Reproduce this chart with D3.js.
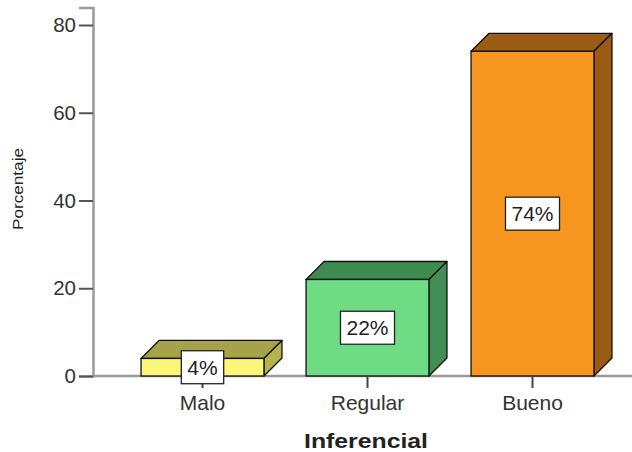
<!DOCTYPE html>
<html><head><meta charset="utf-8">
<script src="https://cdn.jsdelivr.net/npm/d3@7"></script>
<style>html,body{margin:0;padding:0;background:#fff}svg{display:block}</style>
</head><body>
<script>
const categories = ["Malo", "Regular", "Bueno"];
const values = [4, 22, 74];
const valueLabels = ["4%", "22%", "74%"];
const yTicks = [0, 20, 40, 60, 80];
const frontColors = ["#FAF67A", "#6FDB84", "#F7961F"];
const topColors = ["#A6A24A", "#3F8B50", "#9A5B14"];
const sideColors = ["#B6B24C", "#438E54", "#9A5B14"];
const xTitle = "Inferencial";
const yTitle = "Porcentaje";

const W = 632, H = 452;
const svg = d3.select("body").append("svg").attr("width", W).attr("height", H);
const font = "'Liberation Sans', Arial, sans-serif";

const y = d3.scaleLinear().domain([0, 84]).range([376, 7.45]);
const x = d3.scaleBand().domain(categories).range([120, 615]).paddingInner(0.255).paddingOuter(0.1275);
const dx = 18, dy = 18;

// y axis
const yAxis = svg.append("g").attr("transform", "translate(93,0)")
  .call(d3.axisLeft(y).tickValues(yTicks).tickSize(14).tickPadding(3));
yAxis.select(".domain").attr("stroke", "#9a9a9a").attr("stroke-width", 2.5);
yAxis.selectAll(".tick line").attr("stroke", "#555").attr("stroke-width", 2);
yAxis.selectAll(".tick text").attr("font-family", font).attr("font-size", 20.5).attr("fill", "#333");

// baseline
svg.append("line").attr("x1", 93).attr("x2", 632).attr("y1", y(0)).attr("y2", y(0))
  .attr("stroke", "#9a9a9a").attr("stroke-width", 2.5);

// bars
const g = svg.append("g");
categories.forEach((c, i) => {
  const x0 = x(c), x1 = x(c) + x.bandwidth(), yt = y(values[i]), yb = y(0);
  g.append("path").attr("d", `M${x0},${yt}L${x0+dx},${yt-dy}L${x1+dx},${yt-dy}L${x1},${yt}Z`)
    .attr("fill", topColors[i]).attr("stroke", "#111").attr("stroke-width", 1.3).attr("stroke-linejoin", "round");
  g.append("path").attr("d", `M${x1},${yt}L${x1+dx},${yt-dy}L${x1+dx},${yb-dy}L${x1},${yb}Z`)
    .attr("fill", sideColors[i]).attr("stroke", "#111").attr("stroke-width", 1.3).attr("stroke-linejoin", "round");
  g.append("rect").attr("x", x0).attr("y", yt).attr("width", x1 - x0).attr("height", yb - yt)
    .attr("fill", frontColors[i]).attr("stroke", "#111").attr("stroke-width", 1.3);
});

// x ticks
categories.forEach(c => {
  svg.append("line").attr("x1", x(c) + x.bandwidth()/2).attr("x2", x(c) + x.bandwidth()/2)
    .attr("y1", y(0)).attr("y2", y(0) + 12).attr("stroke", "#444").attr("stroke-width", 2);
});

// value labels
categories.forEach((c, i) => {
  const cx = x(c) + x.bandwidth()/2, cy = y(values[i] / 2);
  const t = svg.append("text").attr("x", cx).attr("y", cy + 7.5).attr("text-anchor", "middle")
    .attr("font-family", font).attr("font-size", 21).attr("fill", "#222").text(valueLabels[i]);
  const bb = t.node().getBBox();
  svg.insert("rect", () => t.node()).attr("x", cx - bb.width/2 - 6).attr("y", cy - 16.5)
    .attr("width", bb.width + 12).attr("height", 33).attr("fill", "#fff").attr("stroke", "#222").attr("stroke-width", 1.3);
});

// x labels
categories.forEach(c => {
  svg.append("text").attr("x", x(c) + x.bandwidth()/2).attr("y", 409.5).attr("text-anchor", "middle")
    .attr("font-family", font).attr("font-size", 21).attr("fill", "#333").text(c);
});

// titles
svg.append("text").attr("x", 366).attr("y", 448).attr("text-anchor", "middle")
  .attr("font-family", font).attr("font-size", 21).attr("font-weight", "bold").attr("fill", "#222")
  .attr("textLength", 124).attr("lengthAdjust", "spacingAndGlyphs").text(xTitle);
svg.append("text").attr("transform", "translate(23,189) rotate(-90)").attr("text-anchor", "middle")
  .attr("font-family", font).attr("font-size", 14).attr("fill", "#222")
  .attr("textLength", 82).attr("lengthAdjust", "spacingAndGlyphs").text(yTitle);
</script>
</body></html>
